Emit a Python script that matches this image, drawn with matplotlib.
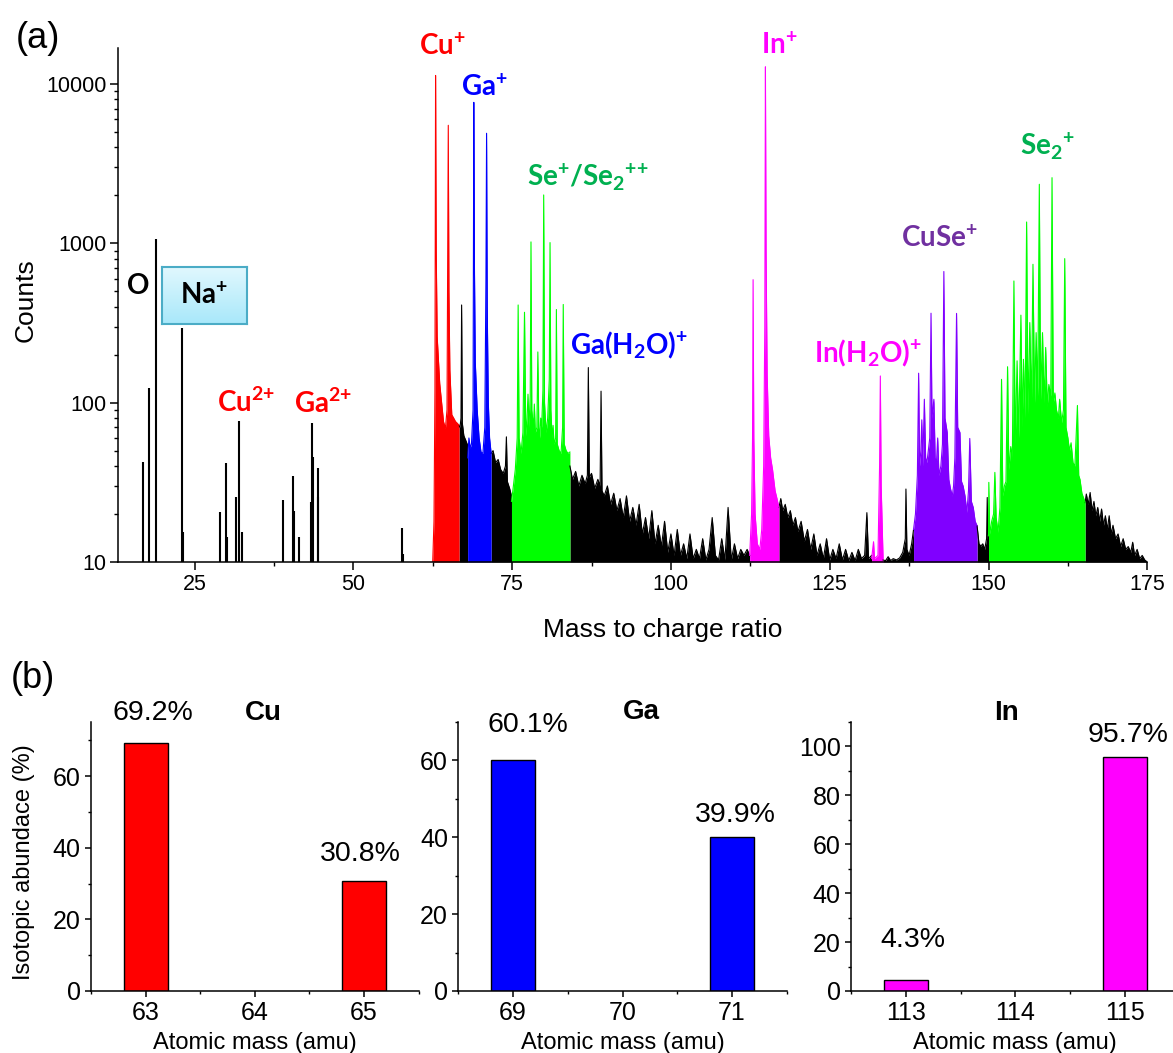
import numpy as np
import matplotlib
matplotlib.use("Agg")
import matplotlib.pyplot as plt
from matplotlib.ticker import MultipleLocator, LogLocator, FuncFormatter, NullFormatter
from matplotlib.colors import LinearSegmentedColormap

plt.rcParams['font.family'] = ['Liberation Sans', 'DejaVu Sans']
plt.rcParams['mathtext.fontset'] = 'custom'
plt.rcParams['mathtext.rm'] = 'Lato:bold'
plt.rcParams['mathtext.bf'] = 'Lato:bold'
plt.rcParams['mathtext.it'] = 'Lato:bold'

# ---------------- data: panel (a) mass spectrum ----------------
# isolated low-mass lines (m/z, counts)
low_mz = [16.9, 17.9, 18.94, 22.95, 23.2, 28.95, 29.95, 30.05, 31.48, 31.95, 32.4,
          38.9, 40.48, 40.7, 41.5, 43.4, 43.5, 43.6, 44.4, 44.5, 57.6, 57.8]
low_ct = [42.6, 123, 1060, 292, 15.4, 20.5, 41.6, 14.3, 25.4, 76.8, 15.4,
          24.5, 34.7, 21, 14.3, 23.7, 74.2, 45.3, 25.4, 38.7, 16.3, 11.2]

# Cu+ (red)
cu_spec = [(62.5, 10), (62.7, 18), (62.85, 120), (62.95, 11300), (63.05, 900), (63.2, 260),
           (63.6, 132), (63.9, 100), (64.2, 76), (64.5, 69), (64.75, 90), (64.95, 5500),
           (65.05, 500), (65.2, 160), (65.5, 84), (65.8, 80), (66.1, 76), (66.4, 74), (66.65, 72)]
# Ga+ (blue)
ga_spec = [(68.0, 45), (68.2, 60), (68.4, 52), (68.6, 55), (68.85, 90), (68.97, 7660),
           (69.07, 700), (69.2, 180), (69.5, 90), (69.8, 60), (70.1, 49), (70.4, 48),
           (70.7, 70), (70.88, 600), (70.98, 4900), (71.08, 400), (71.25, 100), (71.45, 60), (71.7, 48)]
# Se+ / Se2++ (green)
se_spec = [(74.9, 24), (75.2, 30), (75.5, 38), (75.8, 60), (75.95, 410), (76.1, 60), (76.4, 48),
           (76.7, 65), (76.95, 369), (77.15, 62), (77.35, 80), (77.5, 113), (77.65, 70), (77.85, 110),
           (77.97, 1020), (78.1, 90), (78.35, 70), (78.5, 98), (78.65, 65), (78.9, 70), (79.05, 208),
           (79.2, 70), (79.35, 60), (79.5, 80), (79.65, 70), (79.85, 120), (79.97, 2010), (80.1, 100),
           (80.35, 65), (80.6, 80), (80.85, 140), (80.97, 1010), (81.1, 90), (81.3, 60), (81.45, 72),
           (81.6, 55), (81.85, 60), (81.97, 384), (82.1, 55), (82.4, 50), (82.7, 48), (82.95, 70),
           (83.05, 413), (83.2, 55), (83.5, 50), (83.8, 48), (84.1, 49)]
# In+ (magenta)
in_spec = [(112.4, 11), (112.7, 20), (112.85, 60), (112.94, 591), (113.05, 60), (113.25, 20),
           (113.6, 13), (114.0, 12), (114.3, 16), (114.6, 40), (114.78, 300), (114.88, 12800),
           (114.98, 900), (115.15, 150), (115.4, 62), (115.7, 45), (116.0, 38), (116.4, 28),
           (116.7, 25), (117.0, 22)]
# In(H2O)+ (magenta)
inw_spec = [(131.6, 10.5), (131.9, 13.4), (132.05, 10.5), (132.6, 11), (132.85, 40),
            (132.97, 147), (133.1, 30), (133.4, 10.5)]
# CuSe+ (purple)
cuse_spec = [(138.2, 16), (138.5, 20), (138.8, 35), (139.0, 153), (139.15, 40), (139.35, 50),
             (139.5, 78), (139.65, 40), (139.9, 105), (140.1, 45), (140.3, 42), (140.5, 49),
             (140.75, 60), (140.95, 364), (141.1, 80), (141.4, 105), (141.6, 45), (141.8, 42),
             (142.0, 60), (142.2, 35), (142.5, 40), (142.75, 55), (142.97, 665), (143.15, 80),
             (143.5, 65), (143.75, 33), (144.0, 29), (144.3, 26), (144.5, 30), (144.7, 45),
             (144.97, 363), (145.15, 70), (145.5, 65), (145.75, 32), (146.0, 30), (146.3, 26),
             (146.6, 20.5), (146.85, 28), (147.05, 59.6), (147.3, 24), (147.6, 22), (147.9, 18),
             (148.2, 16.9)]
# Se2+ (green)
se2_spec = [(150.0, 14.6), (150.05, 31.6), (150.2, 15), (150.5, 18), (150.8, 20), (151.0, 36.5),
            (151.2, 19), (151.5, 15.4), (151.8, 22), (152.05, 140), (152.25, 26), (152.5, 30),
            (152.75, 32), (153.0, 168), (153.2, 38), (153.5, 53), (153.75, 45), (154.0, 580),
            (154.2, 55), (154.5, 183), (154.75, 60), (155.1, 354), (155.3, 70), (155.5, 187),
            (155.75, 80), (156.0, 1360), (156.2, 85), (156.5, 318), (156.75, 90), (157.0, 738),
            (157.25, 100), (157.5, 275), (157.75, 110), (158.0, 2345), (158.2, 105), (158.5, 275),
            (158.75, 100), (159.0, 222), (159.25, 95), (159.5, 130), (159.8, 110), (160.0, 2580),
            (160.2, 100), (160.45, 115), (160.7, 90), (161.0, 80), (161.2, 105), (161.5, 75),
            (161.8, 90), (162.0, 801), (162.2, 70), (162.5, 60), (162.75, 50), (163.0, 56),
            (163.3, 42), (163.6, 40), (164.0, 96), (164.2, 35), (164.4, 33), (164.7, 27),
            (165.0, 25), (165.2, 23.6)]
# unassigned background (black)
bk_a = [(66.65, 72), (66.8, 70), (66.95, 80), (67.05, 410), (67.15, 75), (67.4, 62), (67.7, 58), (68.0, 54)]
bk_b = [(71.7, 48), (72.0, 50), (72.4, 42), (72.8, 44), (73.2, 38), (73.6, 36), (73.95, 40),
        (74.1, 61), (74.25, 32), (74.6, 29), (74.9, 26)]
bk_c = [(84.1, 40), (84.5, 33), (85.0, 37), (85.5, 30), (86.0, 35), (86.5, 31), (86.85, 35),
        (87.0, 166), (87.15, 34), (87.5, 36), (88.0, 29), (88.5, 33), (88.85, 30), (89.0, 118),
        (89.15, 28), (89.5, 26), (90.0, 30), (90.5, 23), (91.0, 27), (91.5, 21), (92.0, 25),
        (92.5, 19), (93.0, 26), (93.5, 18), (94.0, 22), (94.5, 17), (95.0, 23), (95.5, 15),
        (96.0, 19), (96.5, 14), (97.0, 21), (97.5, 13), (98.0, 17), (98.5, 12.5), (99.0, 18),
        (99.5, 11.5), (100.0, 15), (100.5, 11), (101.0, 16), (101.5, 11), (102.0, 13), (102.5, 10.5),
        (103.0, 15), (103.5, 10.5), (104.0, 12), (104.5, 10.5), (105.0, 14), (105.5, 10.3), (106.0, 12),
        (106.5, 19), (107.0, 11), (107.5, 10.3), (108.0, 14), (108.5, 10.3), (109.0, 22), (109.5, 10.3),
        (110.0, 13), (110.5, 10.5), (111.0, 12), (111.5, 11), (112.0, 12), (112.4, 11)]
bk_d = [(117.0, 22), (117.3, 25), (117.6, 21), (118.0, 23), (118.4, 19), (118.8, 21), (119.2, 17),
        (119.6, 19), (120.0, 15.5), (120.5, 18), (121.0, 13.5), (121.5, 16), (122.0, 12), (122.5, 15),
        (123.0, 11), (123.5, 13), (124.0, 10.5), (124.5, 14), (125.0, 10.3), (125.5, 12), (126.0, 10.5),
        (126.5, 13), (127.0, 10.3), (127.5, 12), (128.0, 10.2), (128.5, 11.5), (129.0, 10.2), (129.5, 12),
        (130.0, 10.5), (130.5, 11), (130.85, 20.4), (131.1, 10.5), (131.6, 11)]
bk_e = [(133.4, 10.3), (133.8, 10.2), (134.2, 10.8), (134.6, 10.2), (135.0, 10.5), (135.5, 10.3),
        (136.0, 10.6), (136.5, 11.5), (136.9, 14), (137.0, 28.7), (137.15, 12), (137.5, 11),
        (137.9, 13), (138.2, 16)]
bk_f = [(148.2, 16.9), (148.5, 13), (148.8, 12.6), (149.1, 13), (149.4, 12), (149.7, 14),
        (149.8, 25.4), (149.9, 15), (150.0, 14.6)]
bk_g = [(165.2, 23.6), (165.4, 26.7), (165.7, 23), (166.0, 27.3), (166.3, 21), (166.6, 24),
        (166.9, 19.5), (167.2, 22), (167.5, 18), (167.8, 21.5), (168.1, 17), (168.4, 19.5),
        (168.7, 16), (169.0, 19.5), (169.3, 15), (169.6, 17), (170.0, 14), (170.4, 15), (170.8, 12.5),
        (171.2, 14), (171.6, 12), (172.0, 12.5), (172.4, 11.5), (172.7, 13.3), (173.0, 11),
        (173.4, 12), (173.8, 10.5), (174.2, 11), (174.6, 10.3), (175.0, 10)]

# ---------------- data: panel (b) isotopic abundance ----------------
cu_mass = [63, 65]
cu_abund = [69.2, 30.8]
ga_mass = [69, 71]
ga_abund = [60.1, 39.9]
in_mass = [113, 115]
in_abund = [4.3, 95.7]

# ---------------- figure ----------------
W, H = 1173, 1053
fig = plt.figure(figsize=(W / 100, H / 100), dpi=100)


def box(l, t, r, b):
    return [l / W, 1 - b / H, (r - l) / W, (b - t) / H]


def pt(x, y):
    return x / W, 1 - y / H


RED, BLUE, GREEN, MAG, PURP = '#FF0000', '#0000FF', '#00FF00', '#FF00FF', '#8000FF'

ax = fig.add_axes(box(118.3, 48, 1147.3, 562))
ax.set_yscale('log')

segments = [(bk_a, 'k'), (bk_b, 'k'), (bk_c, 'k'), (bk_d, 'k'), (bk_e, 'k'), (bk_f, 'k'), (bk_g, 'k'),
            (cu_spec, RED), (ga_spec, BLUE), (se_spec, GREEN), (in_spec, MAG), (inw_spec, MAG),
            (cuse_spec, PURP), (se2_spec, GREEN)]
for seg, col in segments:
    mz, ct = np.array(seg).T
    ax.fill_between(mz, 10, ct, color=col, lw=0)
    ax.plot(mz, ct, color=col, lw=0.8)

ax.vlines(low_mz, 10, low_ct, color='k', lw=1.5)

ax.set_xlim(13, 175)
ax.set_ylim(10, 16800)
ax.spines['top'].set_visible(False)
ax.spines['right'].set_visible(False)
for s in ('left', 'bottom'):
    ax.spines[s].set_linewidth(1.1)
ax.xaxis.set_major_locator(MultipleLocator(25))
ax.xaxis.set_minor_locator(MultipleLocator(12.5))
ax.yaxis.set_major_locator(LogLocator(base=10))
ax.yaxis.set_minor_locator(LogLocator(base=10, subs=np.arange(2, 10)))
ax.yaxis.set_major_formatter(FuncFormatter(lambda v, _: f"{v:g}"))
ax.yaxis.set_minor_formatter(NullFormatter())
ax.tick_params(which='major', direction='out', length=5.5, width=1.1, labelsize=15.5, pad=3)
ax.tick_params(which='minor', direction='out', length=3, width=1.0)

fig.text(*pt(663, 630), 'Mass to charge ratio', fontsize=19, ha='center', va='center')
fig.text(*pt(26, 300), 'Counts', fontsize=19, ha='center', va='center', rotation=90)
fig.text(*pt(38, 38), '(a)', fontsize=26, ha='center', va='center')

# peak labels
lab = dict(fontfamily='Lato', fontweight='bold', fontsize=20, ha='center', va='center')
fig.text(*pt(442, 47), r'Cu$^{\mathbf{+}}$', color=RED, **lab)
fig.text(*pt(484, 88), r'Ga$^{\mathbf{+}}$', color=BLUE, **lab)
fig.text(*pt(588, 177), r'Se$^{\mathbf{+}}$/Se$_{\mathbf{2}}{}^{\mathbf{+}\mathbf{+}}$', color='#00B050', **lab)
fig.text(*pt(629, 345), r'Ga(H$_{\mathbf{2}}$O)$^{\mathbf{+}}$', color=BLUE, **lab)
fig.text(*pt(779, 46), r'In$^{\mathbf{+}}$', color=MAG, **lab)
fig.text(*pt(868, 353), r'In(H$_{\mathbf{2}}$O)$^{\mathbf{+}}$', color=MAG, **lab)
fig.text(*pt(939, 239), r'CuSe$^{\mathbf{+}}$', color='#7030A0', **lab)
fig.text(*pt(1047, 146), r'Se$_{\mathbf{2}}{}^{\mathbf{+}}$', color='#00B050', **lab)
fig.text(*pt(246, 402), r'Cu$^{\mathbf{2}\mathbf{+}}$', color=RED, **lab)
fig.text(*pt(323, 403), r'Ga$^{\mathbf{2}\mathbf{+}}$', color=RED, **lab)
fig.text(*pt(138, 286), 'O', color='k', **lab)

# Na+ box with light-blue gradient
nax = fig.add_axes(box(162, 266.7, 246.7, 324))
grad = np.linspace(0, 1, 64).reshape(-1, 1)
cmap = LinearSegmentedColormap.from_list('nabox', ['#E2F8FE', '#A8E8FA'])
nax.imshow(grad, aspect='auto', cmap=cmap, extent=[0, 1, 0, 1])
nax.set_xticks([])
nax.set_yticks([])
for s in nax.spines.values():
    s.set_color('#4BACC6')
    s.set_linewidth(1.5)
nax.text(0.5, 0.5, r'Na$^{\mathbf{+}}$', transform=nax.transAxes, color='k', **lab)

# ---------------- panel (b) ----------------
panels = [
    (box(91.05, 722.3, 418.7, 991), cu_mass, cu_abund, RED, (62.5, 65.5), 75, 20, 'Cu', (263, 713),
     [(7, 30), (-4, 27)]),
    (box(458.3, 721.7, 786.7, 991), ga_mass, ga_abund, BLUE, (68.5, 71.5), 70, 20, 'Ga', (641, 712),
     [(15, 35), (3, 22)]),
    (box(851, 721.7, 1179.5, 991), in_mass, in_abund, MAG, (112.5, 115.5), 110, 20, 'In', (1007, 713),
     [(7, 40), (3, 22)]),
]
for pos, mass, abund, col, xl, ytop, ystep, name, tpos, offs in panels:
    bx = fig.add_axes(pos)
    bx.bar(mass, abund, width=0.4, color=col, edgecolor='k', linewidth=1.0)
    bx.set_xlim(*xl)
    bx.set_ylim(0, ytop)
    bx.spines['top'].set_visible(False)
    bx.spines['right'].set_visible(False)
    for s in ('left', 'bottom'):
        bx.spines[s].set_linewidth(1.1)
    bx.xaxis.set_major_locator(MultipleLocator(1))
    bx.xaxis.set_minor_locator(MultipleLocator(0.5))
    bx.yaxis.set_major_locator(MultipleLocator(ystep))
    bx.yaxis.set_minor_locator(MultipleLocator(ystep / 2))
    bx.xaxis.set_major_formatter(FuncFormatter(lambda v, _: f"{v:.0f}"))
    bx.tick_params(which='major', direction='out', length=4.5, width=1.1, labelsize=18, pad=3)
    bx.tick_params(which='minor', direction='out', length=2.5, width=1.0)
    bx.set_xlabel('Atomic mass (amu)', fontsize=17, labelpad=5)
    for m, a, (dx, dy) in zip(mass, abund, offs):
        bx.annotate(f"{a:.1f}%", (m, a), xytext=(dx * 0.72, dy * 0.72), textcoords='offset points',
                    ha='center', va='center', fontsize=20.5)
    fig.text(*pt(*tpos), name, fontsize=20, fontweight='bold', ha='center', va='center')

fig.text(*pt(24, 862), 'Isotopic abundace (%)', fontsize=17, ha='center', va='center', rotation=90)
fig.text(*pt(33, 678), '(b)', fontsize=26, ha='center', va='center')

fig.savefig('out.png', dpi=100)
